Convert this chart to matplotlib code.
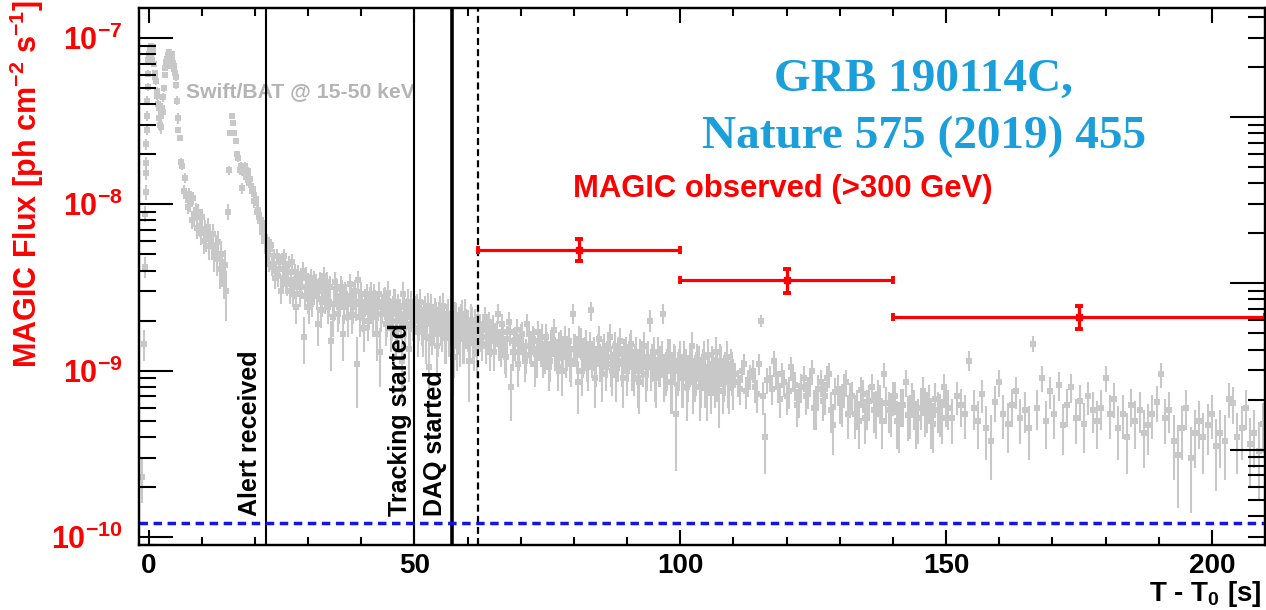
import numpy as np
import matplotlib
matplotlib.use('Agg')
import matplotlib.pyplot as plt
from matplotlib.ticker import MultipleLocator, LogLocator, NullFormatter, FixedLocator, FixedFormatter

plt.rcParams['font.family'] = ['Liberation Sans', 'DejaVu Sans']
plt.rcParams['font.weight'] = 'bold'
plt.rcParams['mathtext.fontset'] = 'custom'
plt.rcParams['mathtext.rm'] = 'Liberation Sans:bold'
plt.rcParams['mathtext.bf'] = 'Liberation Sans:bold'
plt.rcParams['mathtext.it'] = 'Liberation Sans:bold'
plt.rcParams['mathtext.sf'] = 'Liberation Sans:bold'
plt.rcParams['mathtext.default'] = 'bf'
plt.rcParams['lines.scale_dashes'] = False

# ------------------------------------------------------------------ data
# Swift/BAT 15-50 keV light curve, drawn on the MAGIC flux scale (units of 1e-9)
bat_pre_t = [-1.2, -0.9, -0.75, -0.65, -0.55, -0.5, -0.45, -0.4, -0.35, -0.3, -0.25, -0.2, -0.15, -0.1]
bat_pre_flux = [0.23, 1.45, 4.2, 8.8, 11.8, 15.4, 17.7, 23, 28, 34, 42, 51, 61, 74]
bat_pre_err = [0.07, 0.3, 0.6, 1.0, 1.2, 1.4, 1.5, 1.7, 2.0, 2.2, 2.5, 2.8, 3.0, 3.2]

# segments: start time [s], bin width [s], flux list, flux error
bat_b1_start, bat_b1_width, bat_b1_err = 0.0, 0.25, 2.5
bat_b1_flux = [80, 90, 74, 84, 62, 55, 45, 38, 30, 34, 36, 50, 66, 70, 79, 72, 68, 77, 71, 65, 58, 42]

bat_b1b_start, bat_b1b_width, bat_b1b_err = 0.125, 0.25, 2.5
bat_b1b_flux = [86, 80, 88, 70, 58, 48, 40, 33, 29, 38, 44, 60, 72, 75, 82, 70, 74, 80, 68, 62, 52, 33]

bat_b2_start, bat_b2_width, bat_b2_err = 5.5, 0.25, 1.0
bat_b2_flux = [28, 25, 18, 17, 12, 14.4, 11.2, 9.7, 11.6, 10, 8.1, 10.9, 8.3, 9.2, 7.2, 9.0, 7.4, 6.7,
               8.4, 6.0, 7.1, 6.2, 7.3, 5.6, 6.6, 5.6, 6.6, 4.9, 5.5, 4.7, 5.9, 4.1, 5.0, 4.2, 3.7, 4.3, 3.0,
               9, 16, 27, 34, 31, 27, 24, 20, 19, 16, 17, 12.5, 15.5, 17, 14.5, 15.8, 13.5, 14.2, 12, 12.4,
               10.5, 10.8, 9.0, 9.3, 7.9, 8.0, 6.8, 7.1, 6.0]

bat_c_start, bat_c_width, bat_c_err = 22.0, 0.4, 0.5
bat_c_flux = [6.1, 4.4, 5.7, 4.4, 3.6, 4.9, 4.1, 3.0, 4.9, 3.4, 3.9, 3.0, 4.5, 3.2, 2.4, 3.8, 3.2, 4.0, 2.8, 3.2,
              2.4, 3.6, 2.9, 3.3, 1.9, 3.4, 2.6, 3.7, 2.8, 2.4, 3.2, 2.1, 3.4, 2.8, 2.4, 3.2, 1.65, 2.9, 2.5, 3.3,
              2.15, 2.9, 2.5, 3.5, 2.1, 2.5, 1.8, 2.8, 2.25, 2.9, 2.1, 2.55, 1.65, 2.9, 2.2, 2.65, 1.9, 2.95, 2.25, 2.0,
              2.6, 1.7, 2.4, 2.05, 2.9, 1.9, 2.25, 1.35, 2.5, 2.0, 2.3, 1.7, 2.6, 1.9, 2.15, 1.6, 2.45, 1.9, 1.75, 2.25,
              1.4, 2.1, 1.9, 2.45, 1.6, 2.0, 1.7, 2.2, 1.4, 2.05, 1.75, 1.55, 2.15, 1.6, 1.85, 1.15, 2.0, 1.6, 1.85, 1.4]

bat_c2_start, bat_c2_width, bat_c2_err = 22.2, 0.4, 0.5
bat_c2_flux = [5.0, 5.4, 4.2, 4.9, 4.0, 3.7, 4.5, 3.6, 4.2, 3.3, 4.4, 3.5, 2.9, 3.9, 3.4, 2.9, 3.6, 1.6, 3.7, 2.7,
               3.3, 2.6, 3.5, 2.8, 3.1, 2.3, 3.2, 2.7, 3.4, 2.6, 1.5, 2.5, 3.1, 2.2, 2.7, 3.0, 2.4, 2.8, 2.1, 2.7,
               2.4, 3.0, 1.1, 2.6, 2.9, 2.2, 2.6, 2.0, 2.7, 2.4, 2.8, 2.2, 2.5, 1.3, 2.4, 2.7, 2.1, 2.4, 1.8, 2.3,
               2.6, 2.0, 2.2, 1.15, 2.4, 2.1, 2.6, 1.9, 2.2, 1.8, 2.4, 2.0, 2.2, 1.7, 2.3, 2.0, 1.05, 2.4, 1.9, 2.1,
               1.7, 2.3, 1.8, 2.0, 1.6, 2.2, 1.9, 1.2, 2.1, 1.5, 1.9, 2.0, 1.6, 2.2, 1.8, 1.6, 1.9, 1.5, 1.7, 1.8]

bat_d_start, bat_d_width, bat_d_err = 62.0, 0.5, 0.3
bat_d_flux = [1.9, 1.45, 2.1, 1.6, 1.3, 1.85, 1.55, 2.2, 1.35, 1.7, 1.2, 1.95, 0.8, 1.5, 1.75, 1.3,
              1.65, 1.15, 1.9, 1.4, 1.55, 1.1, 1.7, 1.35, 1.2, 1.6, 1.05, 1.45, 1.75, 1.25, 1.4, 1.0,
              1.55, 1.3, 1.15, 2.2, 1.35, 0.85, 1.5, 1.2, 1.45, 1.05, 2.3, 1.3, 1.1, 1.55, 0.95, 1.35,
              1.2, 1.6, 1.0, 1.4, 1.15, 1.5, 0.9, 1.3, 1.15, 1.45, 1.0, 1.3, 0.85, 1.2, 1.4, 1.05,
              2.0, 1.15, 0.95, 1.3, 1.1, 2.2, 1.0, 1.25, 0.85, 1.15, 0.55, 1.05, 0.9, 1.2, 0.8, 1.1,
              1.4, 0.95, 1.15, 0.8, 1.05, 0.9, 1.25, 0.85, 1.0, 1.3, 0.75, 1.1, 0.95, 1.2, 0.85, 1.0]

bat_d2_start, bat_d2_width, bat_d2_err = 62.25, 0.5, 0.3
bat_d2_flux = [1.6, 1.75, 1.4, 1.95, 1.5, 1.3, 1.7, 1.45, 1.9, 1.25, 1.55, 1.7, 1.3, 1.45, 1.1, 1.6,
               1.4, 1.25, 1.65, 1.35, 1.5, 1.2, 1.45, 1.6, 1.25, 1.4, 1.15, 1.5, 1.3, 1.05, 1.45, 1.3,
               1.2, 1.5, 1.1, 1.35, 1.25, 1.55, 1.0, 1.3, 1.15, 1.4, 1.2, 0.9, 1.35, 1.15, 1.25, 1.05,
               1.4, 1.1, 1.2, 0.95, 1.3, 1.1, 1.25, 1.0, 1.35, 1.05, 1.15, 0.9, 1.25, 1.1, 0.95, 1.2,
               1.05, 1.3, 0.9, 1.1, 1.2, 0.95, 1.05, 1.25, 0.85, 1.1, 1.0, 1.2, 0.9, 1.05, 0.95, 1.15,
               0.85, 1.0, 1.1, 0.9, 1.2, 0.8, 1.0, 1.1, 0.9, 0.95, 1.15, 0.85, 1.0, 0.9, 1.05, 0.88]

bat_e_start, bat_e_width, bat_e_err = 110.0, 0.8, 0.16
bat_e_flux = [0.95, 0.78, 1.1, 0.85, 1.0, 0.72, 2.0, 0.4, 0.9, 1.15, 0.8, 0.95, 0.7, 1.05, 0.82, 0.68,
              0.9, 0.75, 1.0, 0.6, 0.85, 0.7, 0.95, 0.47, 0.78, 0.62, 0.85, 0.68, 0.55, 0.5, 0.72, 0.6,
              0.8, 0.55, 0.66, 0.95, 0.58, 0.7, 0.5, 0.62, 0.85, 0.55, 0.6, 0.52, 0.75, 0.58, 0.5, 0.68,
              0.56, 0.8, 0.6, 0.52, 0.7, 0.62, 0.55, 1.15, 0.6, 0.5, 0.72, 0.45, 0.38, 0.65, 0.85, 0.55,
              0.48, 0.62, 0.75, 0.52, 0.58, 0.45, 1.45, 0.6, 0.9, 0.5, 0.75, 0.55, 0.82, 0.47, 0.62, 0.8,
              0.52, 0.66, 0.48, 0.7, 0.58, 0.5, 0.6, 0.9, 0.55, 0.68, 0.45, 0.55, 0.4, 0.62, 0.5, 0.58,
              0.42, 0.47, 0.55, 0.65, 0.95, 0.52, 0.58, 0.38, 0.31, 0.45, 0.6, 0.3, 0.42, 0.5, 0.4, 0.47,
              0.55, 0.35, 0.42, 0.38, 0.68, 0.64, 0.4, 0.45, 0.6, 0.36, 0.42, 0.33, 0.48]

bat_e2_start, bat_e2_width, bat_e2_err = 110.4, 0.8, 0.16
bat_e2_flux = [0.85, 1.0, 0.75, 0.92, 0.8, 1.1, 0.7, 0.88, 0.78, 0.95, 0.68, 0.85, 0.75, 0.9, 0.62, 0.8,
               0.7, 0.85, 0.6, 0.78, 0.66, 0.9, 0.58, 0.74, 0.64, 0.8, 0.55, 0.7, 0.6, 0.76, 0.52, 0.66,
               0.58, 0.72, 0.5, 0.64, 0.56, 0.7, 0.48, 0.62, 0.54, 0.68, 0.5, 0.6, 0.56, 0.66, 0.48, 0.58,
               0.52, 0.62]

# MAGIC > 300 GeV points
magic_t = [81.0, 120.0, 175.0]
magic_t_lo = [19.0, 20.0, 35.0]
magic_t_hi = [19.0, 20.0, 35.0]
magic_flux = [5.35e-9, 3.53e-9, 2.11e-9]
magic_err_lo = [0.81e-9, 0.58e-9, 0.32e-9]
magic_err_hi = [0.80e-9, 0.58e-9, 0.35e-9]

sensitivity_flux = 1.21e-10
event_times = [22.0, 50.0, 57.0, 62.0]
event_labels = ['Alert received', 'Tracking started', 'DAQ started', '']

ytick_values = [1e-10, 1e-9, 1e-8, 1e-7]
ytick_labels = [r'$10^{-10}$', r'$10^{-9}$', r'$10^{-8}$', r'$10^{-7}$']
xtick_values = [0, 50, 100, 150, 200]
xtick_labels = ['0', '50', '100', '150', '200']

# ------------------------------------------------------------------ figure
W, H = 1266, 610
fig = plt.figure(figsize=(W / 100, H / 100), dpi=100)
ax = fig.add_axes([139 / W, 1 - 545 / H, (1265 - 139) / W, (545 - 8) / H])
ax.set_xlim(-1.8, 210)
ax.set_yscale('log')
ax.set_ylim(8.95e-11, 1.515e-7)

GRAY = '#c8c8c8'


def seg_times(start, width, vals):
    return start + width * (np.arange(len(vals)) + 0.5)


segments = [
    (np.array(bat_pre_t), np.array(bat_pre_flux), np.array(bat_pre_err)),
    (seg_times(bat_b1_start, bat_b1_width, bat_b1_flux), np.array(bat_b1_flux), bat_b1_err),
    (seg_times(bat_b1b_start, bat_b1b_width, bat_b1b_flux), np.array(bat_b1b_flux), bat_b1b_err),
    (seg_times(bat_b2_start, bat_b2_width, bat_b2_flux), np.array(bat_b2_flux), bat_b2_err),
    (seg_times(bat_c_start, bat_c_width, bat_c_flux), np.array(bat_c_flux), bat_c_err),
    (seg_times(bat_c2_start, bat_c2_width, bat_c2_flux), np.array(bat_c2_flux), bat_c2_err),
    (seg_times(bat_d_start, bat_d_width, bat_d_flux), np.array(bat_d_flux), bat_d_err),
    (seg_times(bat_d2_start, bat_d2_width, bat_d2_flux), np.array(bat_d2_flux), bat_d2_err),
    (seg_times(bat_e_start, bat_e_width, bat_e_flux), np.array(bat_e_flux), bat_e_err),
    (seg_times(bat_e2_start, bat_e2_width, bat_e2_flux), np.array(bat_e2_flux), bat_e2_err),
]
for t, f, e in segments:
    ax.errorbar(t, f * 1e-9, yerr=np.zeros_like(f) + np.asarray(e) * 1e-9, fmt='s', ms=3.8,
                color=GRAY, ecolor=GRAY, elinewidth=1.5, capsize=2.4, capthick=1.5,
                markeredgewidth=0, zorder=1)

# event lines
ax.axvline(event_times[0], color='black', lw=1.5, zorder=3)
ax.axvline(event_times[1], color='black', lw=1.5, zorder=3)
ax.axvline(event_times[2], color='black', lw=2.6, zorder=3)
ax.axvline(event_times[3], color='black', lw=1.6, ls=(0, (5, 3)), zorder=3)

label_y = 1.34e-10
ax.text(event_times[0] - 0.6, label_y, event_labels[0], rotation=90, ha='right', va='bottom',
        fontsize=18, fontweight='bold', color='black', zorder=6)
ax.text(event_times[1] - 0.4, label_y, event_labels[1], rotation=90, ha='right', va='bottom',
        fontsize=18, fontweight='bold', color='black', zorder=6)
ax.text(event_times[2] - 0.9, label_y, event_labels[2], rotation=90, ha='right', va='bottom',
        fontsize=18, fontweight='bold', color='black', zorder=6)

# sensitivity line
ax.axhline(sensitivity_flux, color='#1414e6', lw=2.5, ls=(0, (6.1, 4.0)), zorder=4)

# MAGIC points
ax.errorbar(magic_t, magic_flux, xerr=[magic_t_lo, magic_t_hi], yerr=[magic_err_lo, magic_err_hi],
            fmt='s', ms=4.5, color='#ff0000', ecolor='#ff0000', elinewidth=2.3, capsize=2.8,
            capthick=2.8, zorder=5, clip_on=False)

# texts
ax.text(7.0, 4.40e-8, 'Swift/BAT @ 15-50 keV', fontsize=15.2, fontweight='bold', color='#b4b4b4',
        ha='left', va='baseline', zorder=2)
ax.text(145.8, 4.78e-8, 'GRB 190114C,', fontsize=34, fontweight='bold', color='#1a9fdb',
        family='Liberation Serif', ha='center', va='baseline', zorder=6)
ax.text(145.8, 2.17e-8, 'Nature 575 (2019) 455', fontsize=34, fontweight='bold', color='#1a9fdb',
        family='Liberation Serif', ha='center', va='baseline', zorder=6)
ax.text(79.8, 1.10e-8, 'MAGIC observed (>300 GeV)', fontsize=22.3, fontweight='bold', color='#ff0000',
        ha='left', va='baseline', zorder=6)

# axes styling
for s in ax.spines.values():
    s.set_linewidth(1.6)
ax.yaxis.set_major_locator(FixedLocator(ytick_values))
ax.yaxis.set_major_formatter(FixedFormatter(ytick_labels))
ax.yaxis.set_minor_locator(LogLocator(base=10, subs=np.arange(2, 10)))
ax.yaxis.set_minor_formatter(NullFormatter())
ax.xaxis.set_major_locator(FixedLocator(xtick_values))
ax.xaxis.set_major_formatter(FixedFormatter(xtick_labels))
ax.xaxis.set_minor_locator(MultipleLocator(10))

ax.tick_params(axis='y', which='major', direction='in', length=24.5, width=1.5, left=True, right=False,
               labelsize=22, labelcolor='#ff0000', pad=11.5)
ax.tick_params(axis='y', which='minor', direction='in', length=12, width=1.5, left=True, right=False)
ax.tick_params(axis='x', which='major', direction='in', length=11, width=1.5, top=True, bottom=True,
               labelsize=20, pad=5.5)
ax.tick_params(axis='x', which='minor', direction='in', length=5.8, width=1.5, top=True, bottom=True)
for lab in ax.get_xticklabels():
    lab.set_fontweight('bold')

# right-hand (Swift/BAT) axis, ticks only
ax2 = ax.twinx()
ax2.set_yscale('log')
F = 10 ** (79 / 166.3)
ax2.set_ylim(8.95e-11 * F, 1.515e-7 * F)
ax2.yaxis.set_major_locator(LogLocator(base=10))
ax2.yaxis.set_minor_locator(LogLocator(base=10, subs=np.arange(2, 10)))
ax2.yaxis.set_major_formatter(NullFormatter())
ax2.yaxis.set_minor_formatter(NullFormatter())
ax2.tick_params(axis='y', which='major', direction='in', length=25, width=1.5, right=True, left=False)
ax2.tick_params(axis='y', which='minor', direction='in', length=12.5, width=1.5, right=True, left=False)
for s in ax2.spines.values():
    s.set_linewidth(1.6)

# axis titles
fig.text(27 / W, 1 - 184 / H, r'MAGIC Flux [ph cm$^{-2}$ s$^{-1}$]', rotation=90, ha='center',
         va='center', fontsize=22, fontweight='bold', color='#ff0000')
fig.text(1262 / W, 1 - 601 / H, r'T - T$_{0}$ [s]', ha='right', va='baseline', fontsize=20,
         fontweight='bold', color='black')

fig.savefig('out.png', dpi=100)
